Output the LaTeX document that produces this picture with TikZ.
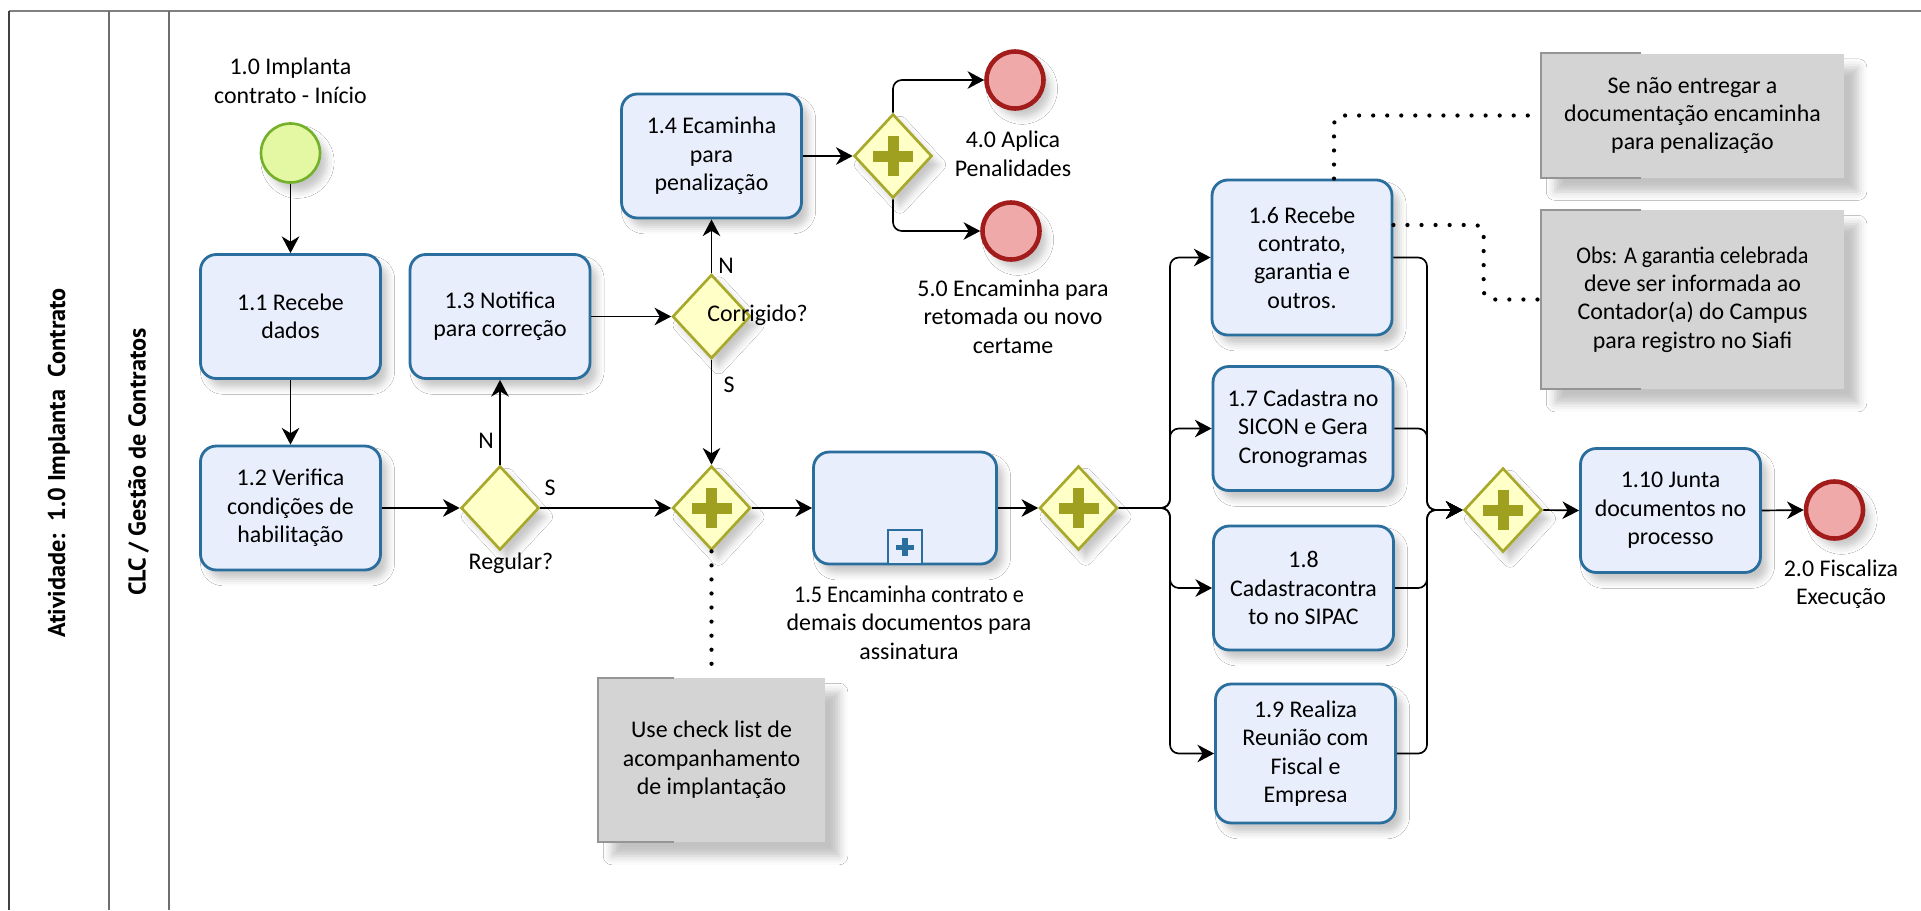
\documentclass[tikz,border=0pt]{standalone}
\usepackage{fontspec}
\setmainfont{Carlito}
\newfontfamily\lanefont{PT Sans}
\newfontfamily\squeezefont{Carlito}[FakeStretch=0.93]
\usetikzlibrary{shapes.geometric,arrows.meta,calc,shadows.blur}

% one drawing unit = one pixel of the sheet
\newcommand\pxu{0.02cm}
\newcommand\bodysize{\fontsize{13.6}{16.2}\selectfont}

\definecolor{taskfill}{HTML}{E9EEFC}
\definecolor{taskline}{HTML}{2A6E9E}
\definecolor{gatefill}{HTML}{FFFFC8}
\definecolor{gateline}{HTML}{A8A82A}
\definecolor{plusc}{HTML}{A0A020}
\definecolor{startfill}{HTML}{E4F7A2}
\definecolor{startline}{HTML}{74B02A}
\definecolor{endfill}{HTML}{EFA9A9}
\definecolor{endline}{HTML}{A31C1C}
\definecolor{notefill}{HTML}{D4D4D4}
\definecolor{notebracket}{HTML}{959595}
\definecolor{lanegray}{HTML}{6E6E6E}

\begin{document}
\begin{tikzpicture}[x=0.02cm,y=-0.02cm,
  softshadow/.style={blur shadow={shadow xshift=4pt, shadow yshift=-5pt,
      shadow blur radius=4pt, shadow opacity=22}},
  noteshadow/.style={blur shadow={shadow xshift=8pt, shadow yshift=-8pt,
      shadow blur radius=5pt, shadow opacity=24}},
  task/.style={rectangle, rounded corners=9pt, draw=taskline, fill=taskfill,
      line width=1.6pt, minimum width=180*\pxu, minimum height=124*\pxu,
      align=center, font=\bodysize, inner sep=2pt, softshadow},
  gate/.style={diamond, draw=gateline, fill=gatefill, line width=1.5pt,
      minimum width=78*\pxu, minimum height=84*\pxu, inner sep=0pt, softshadow},
  pargate/.style={gate, path picture={
      \fill[plusc] ($(path picture bounding box.center)+(-20,-5.5)$) rectangle
                   ($(path picture bounding box.center)+(20,5.5)$);
      \fill[plusc] ($(path picture bounding box.center)+(-5.5,-20)$) rectangle
                   ($(path picture bounding box.center)+(5.5,20)$);}},
  startev/.style={circle, draw=startline, fill=startfill, line width=1.5pt,
      minimum size=59*\pxu, inner sep=0pt, softshadow},
  endev/.style={circle, draw=endline, fill=endfill, line width=2.6pt,
      minimum size=57*\pxu, inner sep=0pt, softshadow},
  note/.style={rectangle, fill=notefill, align=center, font=\bodysize,
      inner sep=0pt, noteshadow},
  bracket/.style={draw=notebracket, line width=1.2pt},
  txt/.style={align=center, font=\bodysize, inner sep=0pt},
  flow/.style={draw=black, line width=0.95pt,
      -{Stealth[length=9.5pt,width=10pt,inset=3pt]}},
  assoc/.style={draw=black, line width=2.4pt, line cap=round,
      dash pattern=on 0pt off 8pt},
  lane/.style={draw=lanegray, line width=1.2pt},
  lanetitle/.style={rotate=90, inner sep=0pt,
      font=\lanefont\bfseries\fontsize{13.8}{16}\selectfont}
]
\useasboundingbox (0,0) rectangle (1921,910);
\fill[white] (0,0) rectangle (1921,910);

% pool and lane frame
\draw[draw=gray, line width=1.5pt] (9,11) -- (1921,11);
\draw[draw=black!75, line width=1.2pt] (9,11) -- (9,910);
\draw[lane] (109,11) -- (109,910);
\draw[lane] (169,11) -- (169,910);
\node[lanetitle] (pooltitle) at (59,463) {Atividade:\ \ 1.0 Implanta\ \ Contrato};
\node[lanetitle] (lanetitle) at (138.5,462) {CLC / Gestão de Contratos};

% annotations
\node[note, minimum width=303*\pxu, minimum height=124*\pxu] (note1) at (1692.5,115.5)
  {Se não entregar a\\documentação encaminha\\para penalização};
\node[note, minimum width=303*\pxu, minimum height=179*\pxu] (note2) at (1692.5,299.5)
  {\squeezefont\fontsize{13.6}{16.4}\selectfont Obs: A garantia celebrada\\deve ser informada ao\\Contador(a) do Campus\\para registro no Siafi};
\node[note, minimum width=227*\pxu, minimum height=164*\pxu] (note3) at (711.5,760)
  {Use check list de\\acompanhamento\\de implantação};
\draw[bracket] ($(note1.north west)+(100,0)$) -- (note1.north west) -- (note1.south west) -- ($(note1.south west)+(100,0)$);
\draw[bracket] ($(note2.north west)+(100,0)$) -- (note2.north west) -- (note2.south west) -- ($(note2.south west)+(100,0)$);
\draw[bracket] ($(note3.north west)+(76,0)$) -- (note3.north west) -- (note3.south west) -- ($(note3.south west)+(76,0)$);

% events
\node[startev] (start) at (290.5,153) {};
\node[txt] (startlbl) at (290.5,81) {1.0 Implanta\\contrato - Início};
\node[endev] (e40) at (1015,80) {};
\node[txt] (e40lbl) at (1013,154) {4.0 Aplica\\Penalidades};
\node[endev] (e50) at (1011,231) {};
\node[txt] (e50lbl) at (1013,316.5) {5.0 Encaminha para\\retomada ou novo\\certame};
\node[endev] (e20) at (1834.5,510) {};
\node[txt] (e20lbl) at (1841,584) {2.0 Fiscaliza\\Execução};

% tasks
\node[task] (b11) at (290.5,316.5) {1.1 Recebe\\dados};
\node[task] (b12) at (290.5,508) {1.2 Verifica\\condições de\\habilitação};
\node[task] (b13) at (500,316.5) {1.3 Notifica\\para correção};
\node[task] (b14) at (711.5,156) {1.4 Ecaminha\\para\\penalização};
\node[task, minimum width=183*\pxu, minimum height=112*\pxu] (b15) at (905,508) {};
\node[draw=taskline, fill=taskfill, line width=1.2pt, minimum size=34*\pxu,
      inner sep=0pt, anchor=south] (b15mark) at (b15.south) {};
\fill[taskline] ($(b15mark.center)+(-9,-2.8)$) rectangle ($(b15mark.center)+(9,2.8)$);
\fill[taskline] ($(b15mark.center)+(-2.8,-9)$) rectangle ($(b15mark.center)+(2.8,9)$);
\node[txt] (b15lbl) at (909,622.5)
  {\squeezefont\bodysize 1.5 Encaminha contrato e\\demais documentos para\\assinatura};
\node[task, minimum height=155*\pxu] (b16) at (1302,257.5) {1.6 Recebe\\contrato,\\garantia e\\outros.};
\node[task] (b17) at (1303,428.5) {1.7 Cadastra no\\SICON e Gera\\Cronogramas};
\node[task] (b18) at (1303.5,588) {1.8\\Cadastracontra\\to no SIPAC};
\node[task, minimum height=139*\pxu] (b19) at (1305.5,753.5) {1.9 Realiza\\Reunião com\\Fiscal e\\Empresa};
\node[task] (b110) at (1670.5,510.5) {1.10 Junta\\documentos no\\processo};

% gateways
\node[gate] (greg) at (500,508) {};
\node[txt] (greglbl) at (511,563) {Regular?};
\node[gate] (gcor) at (711.5,316.5) {};
\node[txt, anchor=west] (gcorlbl) at (707,315) {Corrigido?};
\node[pargate] (gpen) at (893,156) {};
\node[pargate] (gmrg) at (711.5,508) {};
\node[pargate] (gspl) at (1078.5,508) {};
\node[pargate] (gjn) at (1503,510) {};

% sequence flows
\draw[flow] (start) -- (b11);
\draw[flow] (b11) -- (b12);
\draw[flow] (b12) -- (greg);
\draw[flow] (greg.north) -- (greg.north |- b13.south);
\node[txt] (lblN1) at (486,441) {N};
\draw[flow] (greg.east) -- (gmrg.west);
\node[txt] (lblS1) at (550,488) {S};
\draw[flow] (b13.east) -- (gcor.west);
\draw[flow] (gcor.north) -- (b14.south);
\node[txt] (lblN2) at (726,266) {N};
\draw[flow] (gcor.south) -- (gmrg.north);
\node[txt] (lblS2) at (729,385) {S};
\draw[flow] (b14.east) -- (gpen.west);
\draw[flow, rounded corners=5pt] (gpen.north) |- (e40.west);
\draw[flow, rounded corners=5pt] (gpen.south) |- (e50.west);
\draw[flow] (gmrg.east) -- (b15.west);
\draw[flow] (b15.east) -- (gspl.west);

% parallel branches
\coordinate (fork) at (1170,508);
\coordinate (join) at (1427,510);
\foreach \t in {b16,b17,b18,b19}{
  \draw[flow, rounded corners=5pt] (gspl.east) -- (fork) |- (\t.west);
  \draw[flow, rounded corners=5pt] (\t.east) -| (join) -- (gjn.west);
}
\draw[flow] (gjn.east) -- (b110.west);
\draw[flow] (b110.east) -- (e20.west);

% associations
\draw[assoc] (gmrg.south) -- (note3.north);
\draw[assoc, rounded corners=5pt] ($(b16.north)+(32,0)$) |- (note1.west);
\draw[assoc, rounded corners=5pt] ($(b16.east)+(0,-32.5)$) -| ($(note2.west)+(-57,0)$) -- (note2.west);
\end{tikzpicture}
\end{document}
